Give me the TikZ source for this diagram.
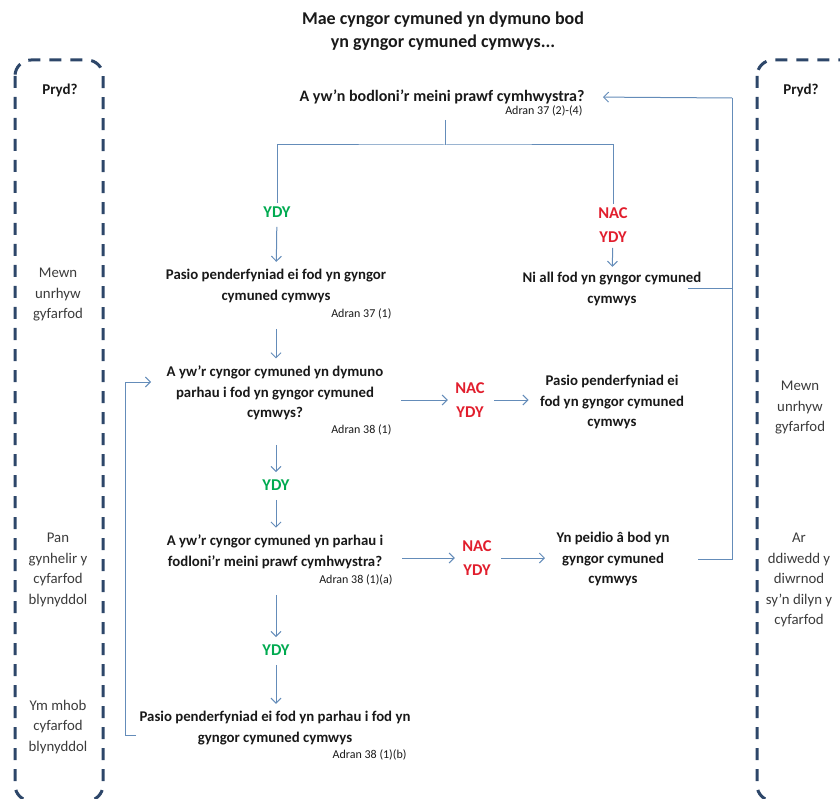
\documentclass[tikz,border=0pt]{standalone}
\usepackage{fontspec}
\setmainfont{Carlito}
\usetikzlibrary{arrows.meta}
\definecolor{ink}{RGB}{25,25,25}
\definecolor{ydygreen}{RGB}{0,170,80}
\definecolor{nacred}{RGB}{225,30,45}
\definecolor{boxblue}{RGB}{45,70,105}
\definecolor{linkblue}{RGB}{100,140,185}

\begin{document}
\begin{tikzpicture}[x=1pt, y=-1pt,
  txt/.style={font=\fontsize{14.8}{20.5}\selectfont\bfseries, align=center, text=ink},
  adran/.style={font=\fontsize{12}{13}\selectfont, text=ink, anchor=east},
  ydy/.style={font=\fontsize{16.5}{24}\selectfont\bfseries, text=ydygreen},
  nacydy/.style={font=\fontsize{16.5}{24}\selectfont\bfseries, text=nacred, align=center},
  when/.style={font=\fontsize{14.8}{20.5}\selectfont, align=center, text=ink!85},
  pryd/.style={draw=boxblue, line width=3pt, dash pattern=on 12pt off 9pt, rounded corners=16pt},
  link/.style={draw=linkblue, line width=1pt},
  arr/.style={link, -{Straight Barb[length=5pt,width=10pt]}, shorten <=6pt, shorten >=4pt}]

  \useasboundingbox (0,0) rectangle (840,799);

  \draw[pryd] (15,60) rectangle (103,801);
  \draw[pryd] (757,60) rectangle (900,801);

  \node[font=\fontsize{18}{23}\selectfont\bfseries, align=center, text=ink] (title) at (443,31) {Mae cyngor cymuned yn dymuno bod\\yn gyngor cymuned cymwys...};

  \node[font=\fontsize{15}{17}\selectfont\bfseries, text=ink] (pryd1) at (60,90) {Pryd?};
  \node[font=\fontsize{15}{17}\selectfont\bfseries, text=ink] (pryd2) at (801,90) {Pryd?};
  \node[when] (w1) at (58,295) {Mewn\\unrhyw\\gyfarfod};
  \node[when] (w2) at (58,570) {Pan\\gynhelir y\\cyfarfod\\blynyddol};
  \node[when] (w3) at (58,727) {Ym mhob\\cyfarfod\\blynyddol};
  \node[when] (w4) at (800,408) {Mewn\\unrhyw\\gyfarfod};
  \node[when] (w5) at (799,580) {Ar\\ddiwedd y\\diwrnod\\sy’n dilyn y\\cyfarfod};

  \node[txt, font=\fontsize{16}{20}\selectfont\bfseries] (q1) at (442,97) {A yw’n bodloni’r meini prawf cymhwystra?};
  \node[adran] (ref1) at (586,111) {Adran 37 (2)-(4)};
  \node[ydy] (y1) at (277,212) {YDY};
  \node[nacydy] (n1) at (613,225) {NAC\\YDY};
  \node[txt] (p1) at (276,286) {Pasio penderfyniad  ei fod yn gyngor\\cymuned cymwys};
  \node[adran] (ref2) at (395,314) {Adran 37 (1)};
  \node[txt] (nm) at (612,289) {Ni all fod yn gyngor cymuned\\cymwys};
  \node[txt] (q2) at (275,393) {A yw’r cyngor  cymuned yn dymuno\\parhau i fod yn gyngor cymuned\\cymwys?};
  \node[adran] (ref3) at (395,430) {Adran 38 (1)};
  \node[nacydy] (n2) at (470,400) {NAC\\YDY};
  \node[txt] (p2) at (612,402) {Pasio penderfyniad  ei\\fod yn gyngor cymuned\\cymwys};
  \node[ydy] (y2) at (276,485) {YDY};
  \node[txt] (q3) at (275,552) {A yw’r cyngor  cymuned yn parhau i\\fodloni’r  meini prawf cymhwystra?};
  \node[adran] (ref4) at (396,580) {Adran 38 (1)(a)};
  \node[nacydy] (n3) at (477,558) {NAC\\YDY};
  \node[txt] (c3) at (613,559) {Yn peidio â bod yn\\gyngor cymuned\\cymwys};
  \node[ydy] (y3) at (276,650) {YDY};
  \node[txt] (p3) at (275,728) {Pasio penderfyniad  ei fod yn parhau i fod yn\\gyngor cymuned cymwys};
  \node[adran] (ref5) at (410,755) {Adran 38 (1)(b)};

  \coordinate (split) at (445,145);
  \coordinate (rail) at (732,98);
  \coordinate (loopA) at (125,735);
  \coordinate (loopB) at (125,382);

  \draw[link] (split |- ref1.south) -- (split);
  \draw[link] (y1.north) |- (split) -| (n1.north);
  \draw[arr] (y1) -- (p1);
  \draw[arr, shorten <=2pt, shorten >=2pt] (n1) -- (nm);
  \draw[arr] (ref2.south -| y2) -- (y2 |- q2.north);
  \draw[arr] (ref3.south -| y2) -- (y2);
  \draw[arr] (y2) -- (y2 |- q3.north);
  \draw[arr] (ref4.south -| y3) -- (y3);
  \draw[arr] (y3) -- (y3 |- p3.north);
  \draw[arr] (ref3.east |- n2) -- (n2);
  \draw[arr, shorten >=8pt] (n2) -- (p2.west |- n2);
  \draw[arr] (ref4.east |- n3) -- (n3);
  \draw[arr, shorten >=8pt] (n3) -- (c3.west |- n3);
  \draw[link, shorten <=25pt] (c3.east) -| (rail);
  \draw[link, shorten <=-17pt] (nm.east) -- (nm.east -| rail);
  \draw[arr, shorten <=0pt, shorten >=15pt] (rail) -- (q1.east);
  \draw[arr, shorten <=0pt, shorten >=12pt] (p3.west |- loopA) -- (loopA) -- (loopB) -- (q2.west |- loopB);

\end{tikzpicture}
\end{document}
